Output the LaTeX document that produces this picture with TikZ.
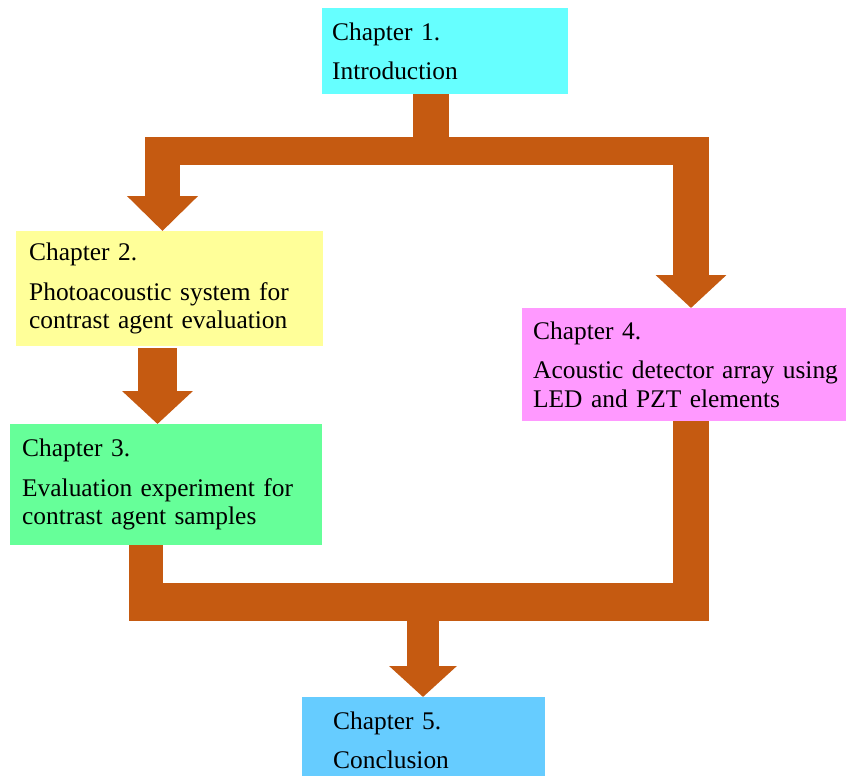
\documentclass[tikz,border=0pt]{standalone}
\usepackage{fontspec}
\setmainfont{Liberation Serif}
\usepackage{tikz}
\usetikzlibrary{arrows.meta,calc,positioning}
\definecolor{AquaCyan}{RGB}{102,255,255}
\definecolor{PaleYellow}{RGB}{255,255,153}
\definecolor{MintGreen}{RGB}{102,255,153}
\definecolor{SoftPink}{RGB}{255,153,255}
\definecolor{SkyBlue}{RGB}{102,204,255}
\definecolor{RustOrange}{RGB}{197,90,17}
\tikzset{chap/.style={anchor=north west,inner ysep=0pt,align=left,font=\fontsize{25.4}{28.5}\selectfont},
  pipe/.style={draw=RustOrange,line cap=butt,line join=miter}}
\begin{document}
\begin{tikzpicture}[x=1pt,y=-1pt]
\path[use as bounding box,clip] (0,0) rectangle (846,776);
\node[chap,fill=AquaCyan,inner xsep=10pt,text width=226pt,minimum height=86pt] (c1) at (322,8) {Chapter 1.\\[11pt]Introduction};
\node[chap,fill=PaleYellow,inner xsep=13pt,text width=281pt,minimum height=115pt] (c2) at (16,231) {Chapter 2.\\[11pt]Photoacoustic system for\\contrast agent evaluation};
\node[chap,fill=MintGreen,inner xsep=12pt,text width=288pt,minimum height=121pt] (c3) at (10,424) {Chapter 3.\\[11pt]Evaluation experiment for\\contrast agent samples};
\node[chap,fill=SoftPink,inner xsep=11pt,text width=320pt,minimum height=113pt] (c4) at (522,308) {Chapter 4.\\[11pt]Acoustic detector array using\\LED and PZT elements};
\node[chap,fill=SkyBlue,inner xsep=31pt,text width=181pt,minimum height=86pt] (c5) at (302,697) {Chapter 5.\\[11pt]Conclusion};
\coordinate (jt) at (431,151);\coordinate (l2) at (162.5,151);\coordinate (r4) at (691,151);
\coordinate (m23) at (157.5,300);
\coordinate (jb) at (423,602);\coordinate (l3) at (146,602);\coordinate (r5) at (691,602);
\draw[pipe,line width=36pt] (c1.south -| jt)--(jt);
\draw[pipe,line width=28pt] (145,151)--(709,151);
\draw[pipe,line width=35pt,-{Triangle[width=69pt,length=35pt]}] (l2)--(l2 |- c2.north);
\draw[pipe,line width=36pt,-{Triangle[width=69pt,length=33pt]}] (r4)--(r4 |- c4.north);
\draw[pipe,line width=39pt,-{Triangle[width=69pt,length=33pt]}] ([yshift=-2pt]m23 |- c2.south)--(m23 |- c3.north);
\draw[pipe,line width=34pt] (c3.south -| l3)--(l3);
\draw[pipe,line width=36pt] (c4.south -| r5)--(r5);
\draw[pipe,line width=38pt] (129,602)--(709,602);
\draw[pipe,line width=32pt,-{Triangle[width=66pt,length=31pt]}] (jb)--(jb |- c5.north);
\end{tikzpicture}
\end{document}
